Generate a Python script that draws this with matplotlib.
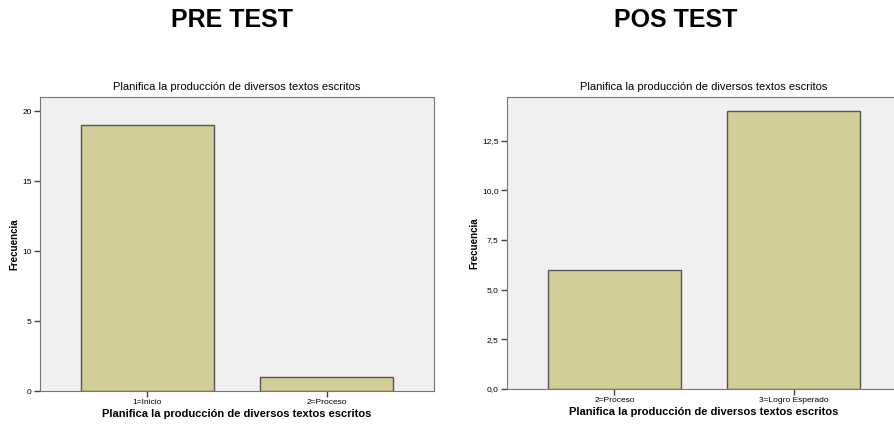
import matplotlib
matplotlib.use("Agg")
import matplotlib.pyplot as plt

plt.rcParams["font.family"] = ["Liberation Sans", "DejaVu Sans"]

pre_cats = ["1=Inicio", "2=Proceso"]
pre_counts = [19, 1]
pre_yticks = [0, 5, 10, 15, 20]
pre_yticklabels = ["0", "5", "10", "15", "20"]

pos_cats = ["2=Proceso", "3=Logro Esperado"]
pos_counts = [6, 14]
pos_yticks = [0, 2.5, 5, 7.5, 10, 12.5]
pos_yticklabels = ["0,0", "2,5", "5,0", "7,5", "10,0", "12,5"]

chart_title = "Planifica la producción de diversos textos escritos"
W, H = 895, 425

fig = plt.figure(figsize=(W / 100, H / 100), dpi=100)


def panel(rect, cats, counts, ylim, yticks, yticklabels, head, head_x, ylab_x):
    ax = fig.add_axes(rect)
    ax.set_facecolor("#f0f0f0")
    ax.bar(range(len(cats)), counts, width=0.74, color="#d3ce97",
           edgecolor="#555555", linewidth=1.0)
    ax.set_xlim(-0.6, 1.6)
    ax.set_ylim(*ylim)
    ax.set_xticks(range(len(cats)))
    ax.set_xticklabels(cats, fontsize=6)
    ax.set_yticks(yticks)
    ax.set_yticklabels(yticklabels, fontsize=6)
    ax.tick_params(length=4, width=1, color="#444444", pad=2)
    for s in ax.spines.values():
        s.set_color("#777777")
    ax.set_title(chart_title, fontsize=8, pad=5)
    ax.set_xlabel(chart_title, fontsize=8, fontweight="bold", labelpad=2)
    ax.set_ylabel("Frecuencia", fontsize=7, fontweight="bold")
    ax.yaxis.set_label_coords((ylab_x - rect[0] * W) / (rect[2] * W), 0.5)
    fig.text(head_x / W, 1 - 20 / H, head, fontsize=18, fontweight="bold",
             ha="center", va="center")
    return ax


panel([40 / W, 34 / H, 394 / W, 294 / H], pre_cats, pre_counts, (0, 21),
      pre_yticks, pre_yticklabels, "PRE TEST", 232, 19)
panel([507 / W, 36 / H, 394 / W, 292 / H], pos_cats, pos_counts, (0, 14.7),
      pos_yticks, pos_yticklabels, "POS TEST", 676, 479)

fig.savefig("out.png", dpi=100)
